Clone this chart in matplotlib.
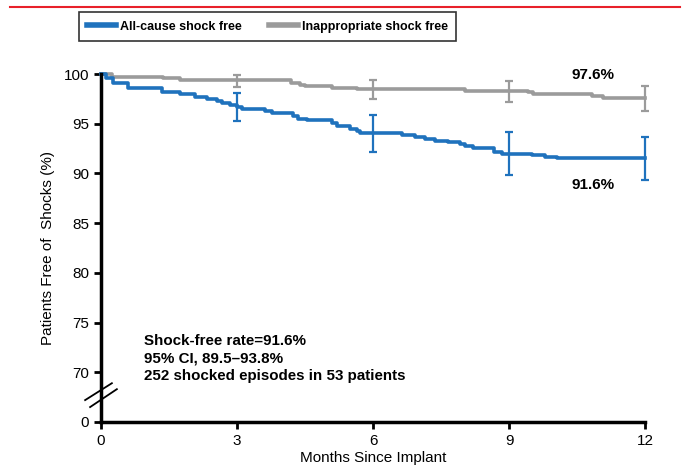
import matplotlib
matplotlib.use("Agg")
import matplotlib.pyplot as plt
from matplotlib.lines import Line2D

plt.rcParams['font.family'] = ['Liberation Sans', 'DejaVu Sans']

# all-cause shock free (step curve)
all_months = [0, 0.1, 0.27, 0.6, 1.34, 1.74, 2.07, 2.33, 2.55, 2.66, 2.85, 2.99, 3.1,
              3.62, 3.77, 4.24, 4.35, 4.54, 5.09, 5.2, 5.49, 5.64, 5.71, 6.63, 6.93,
              7.15, 7.37, 7.66, 7.92, 8.03, 8.21, 8.66, 8.84, 9.5, 9.79, 10.05, 12]
all_rate = [100, 99.6, 99.1, 98.6, 98.2, 98.0, 97.7, 97.5, 97.3, 97.1, 96.9, 96.7, 96.5,
            96.3, 96.1, 95.8, 95.5, 95.4, 95.1, 94.8, 94.5, 94.3, 94.1, 93.9, 93.7,
            93.5, 93.3, 93.2, 93.0, 92.8, 92.6, 92.2, 92.0, 91.9, 91.7, 91.6, 91.6]

# inappropriate shock free (step curve)
inap_months = [0, 0.24, 1.37, 1.74, 4.2, 4.39, 4.5, 5.09, 5.64, 8.03, 9.42, 9.53, 10.82, 11.07, 12]
inap_rate = [100, 99.7, 99.6, 99.4, 99.1, 98.9, 98.8, 98.6, 98.5, 98.3, 98.2, 98.0, 97.75, 97.6, 97.6]

# confidence intervals at 3, 6, 9, 12 months
ci_months = [3, 6, 9, 12]
all_ci_mid = [96.7, 94.1, 92.0, 91.6]
all_ci_lo = [95.3, 92.2, 89.8, 89.3]
all_ci_hi = [98.1, 95.9, 94.2, 93.7]
inap_ci_mid = [99.4, 98.5, 98.3, 97.6]
inap_ci_lo = [98.7, 97.5, 97.2, 96.3]
inap_ci_hi = [99.95, 99.4, 99.3, 98.8]

blue = "#1f72bd"
gray = "#9b9b9b"

fig = plt.figure(figsize=(6.87, 4.67), dpi=100)
ax = fig.add_axes([0.147, 0.0964, 0.792, 0.7451])

ax.step(inap_months, inap_rate, where="post", color=gray, lw=2.6, clip_on=False)
ax.step(all_months, all_rate, where="post", color=blue, lw=2.6, clip_on=False)

ax.errorbar(ci_months, inap_ci_mid,
            yerr=[[m - l for m, l in zip(inap_ci_mid, inap_ci_lo)],
                  [h - m for m, h in zip(inap_ci_mid, inap_ci_hi)]],
            fmt="none", ecolor=gray, elinewidth=1.6, capsize=3, capthick=1.6, clip_on=False)
ax.errorbar(ci_months, all_ci_mid,
            yerr=[[m - l for m, l in zip(all_ci_mid, all_ci_lo)],
                  [h - m for m, h in zip(all_ci_mid, all_ci_hi)]],
            fmt="none", ecolor=blue, elinewidth=1.6, capsize=3, capthick=1.6, clip_on=False)

ax.set_xlim(0, 12)
ax.set_ylim(65, 100)
ax.set_xticks([0, 3, 6, 9, 12])
ax.set_yticks([65, 70, 75, 80, 85, 90, 95, 100])
ax.set_yticklabels(["0", "70", "75", "80", "85", "90", "95", "100"])
ax.tick_params(axis="both", direction="out", length=5, width=2, labelsize=11, color="black")
for s in ["top", "right"]:
    ax.spines[s].set_visible(False)
for s in ["left", "bottom"]:
    ax.spines[s].set_linewidth(2.5)

ax.set_xlabel("Months Since Implant", fontsize=11, labelpad=2.5)
ax.set_ylabel("Patients Free of  Shocks (%)", fontsize=11, labelpad=6)

# axis break marks
ax.plot([-0.35, 0.24], [67.2, 68.9], color="black", lw=1.3, clip_on=False)
ax.plot([-0.24, 0.35], [66.5, 68.3], color="black", lw=1.3, clip_on=False)

ax.text(10.85, 99.9, "97.6%", fontsize=11, fontweight="bold", ha="center", va="center")
ax.text(10.85, 88.85, "91.6%", fontsize=11, fontweight="bold", ha="center", va="center")

ax.text(0.95, 73.85, "Shock-free rate=91.6%\n95% CI, 89.5\u201393.8%\n252 shocked episodes in 53 patients",
        fontsize=10.9, fontweight="bold", ha="left", va="top", linespacing=1.3)

leg_size = 9.0
em = leg_size * 100 / 72
handles = [Line2D([0], [0], color=blue, lw=4), Line2D([0], [0], color=gray, lw=4)]
leg = fig.legend(handles, ["All-cause shock free", "Inappropriate shock free"],
                 loc="center", bbox_to_anchor=(0.389, 0.943), ncol=2, frameon=True,
                 fancybox=False, edgecolor="black",
                 handlelength=29 / em, handletextpad=4 / em, columnspacing=27 / em,
                 prop={"weight": "bold", "size": leg_size},
                 borderpad=0.65)
leg.get_frame().set_linewidth(1.2)

fig.add_artist(Line2D([10 / 687, 680 / 687], [1 - 7 / 467, 1 - 7 / 467],
                      color="#e8202a", lw=1.5))

fig.savefig("out.png", dpi=100)
